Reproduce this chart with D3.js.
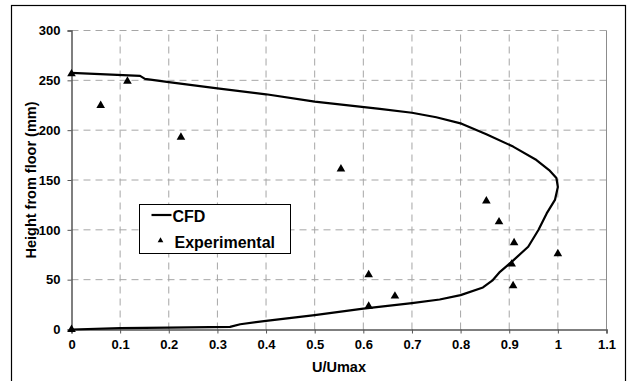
<!DOCTYPE html>
<html>
<head>
<meta charset="utf-8">
<script src="https://cdn.jsdelivr.net/npm/d3@7"></script>
<style>
  body { margin: 0; background: #fff; }
  svg { display: block; font-family: "Liberation Sans", Arial, sans-serif; font-weight: bold; }
</style>
</head>
<body>
<svg id="chart" width="633" height="381"></svg>
<script>
// CFD velocity profile
const cfdU = [0, 0.1, 0.2, 0.326, 0.347, 0.4, 0.5, 0.6, 0.7, 0.757, 0.8, 0.846, 0.865, 0.881, 0.905, 0.939, 0.96, 0.977, 0.994, 1.0, 0.997, 0.982, 0.956, 0.908, 0.853, 0.802, 0.75, 0.7, 0.634, 0.5, 0.4, 0.3, 0.2, 0.151, 0.141, 0];
const cfdH = [0, 1.3, 1.8, 2.6, 5.3, 8.7, 14.4, 21, 26.5, 30.1, 34.5, 42.2, 49, 57.9, 67.9, 83, 99.8, 116.5, 130, 143, 152, 160, 170, 183.5, 196, 206.5, 213, 217.5, 221.3, 228.7, 236, 242, 248.2, 251.5, 254.5, 257.5];

// experimental measurements
const expU = [0, 0.06, 0.115, 0.225, 0.554, 0.853, 0.879, 0.91, 1.0, 0.905, 0.908, 0.611, 0.665, 0.611, 0];
const expH = [256.5, 224.7, 249, 193, 161, 129, 108, 87, 76, 65.6, 44, 55, 33.5, 23.4, 0];

const xTicks = [0, 0.1, 0.2, 0.3, 0.4, 0.5, 0.6, 0.7, 0.8, 0.9, 1, 1.1];
const yTicks = [0, 50, 100, 150, 200, 250, 300];

const svg = d3.select('#chart');
const W = 633, H = 381;
const m = { left: 71.5, right: 26.5, top: 30.5, bottom: 51.5 };

const x = d3.scaleLinear().domain([0, 1.1]).range([m.left, W - m.right]);
const y = d3.scaleLinear().domain([0, 300]).range([H - m.bottom, m.top]);

// outer frame
svg.append('rect')
  .attr('x', 11.5).attr('y', 5.5).attr('width', 614).attr('height', 380)
  .attr('fill', 'none').attr('stroke', '#000').attr('stroke-width', 1.2);

// grid
const grid = svg.append('g').attr('stroke', '#a6a6a6').attr('stroke-width', 1).attr('stroke-dasharray', '7,5');
grid.selectAll('.gx').data(xTicks.slice(1, -1)).enter().append('line')
  .attr('x1', d => x(d)).attr('x2', d => x(d))
  .attr('y1', y(0)).attr('y2', y(300));
grid.selectAll('.gy').data(yTicks.slice(1)).enter().append('line')
  .attr('x1', x(0)).attr('x2', x(1.1))
  .attr('y1', d => y(d)).attr('y2', d => y(d));

// right edge of plot area
svg.append('line')
  .attr('x1', x(1.1)).attr('x2', x(1.1)).attr('y1', y(0)).attr('y2', y(300))
  .attr('stroke', '#8c8c8c').attr('stroke-width', 1);

// axes
const xAxis = svg.append('g')
  .attr('transform', `translate(0,${y(0)})`)
  .call(d3.axisBottom(x).tickValues(xTicks).tickSize(4).tickPadding(6).tickFormat(d3.format('')));
const yAxis = svg.append('g')
  .attr('transform', `translate(${x(0)},0)`)
  .call(d3.axisLeft(y).tickValues(yTicks).tickSize(4).tickPadding(7));

[xAxis, yAxis].forEach(a => {
  a.select('.domain').attr('stroke', '#555').attr('stroke-width', 1.5);
  a.selectAll('.tick line').attr('stroke', '#555');
  a.selectAll('.tick text').attr('fill', '#000')
    .style('font-family', '"Liberation Sans", Arial, sans-serif')
    .style('font-weight', 'bold').style('font-size', '13px');
});

// axis titles
svg.append('text')
  .attr('x', (x(0) + x(1.1)) / 2).attr('y', 371.5)
  .attr('text-anchor', 'middle').style('font-size', '14.5px')
  .text('U/Umax');
svg.append('text')
  .attr('transform', `translate(36,${(y(0) + y(300)) / 2}) rotate(-90)`)
  .attr('text-anchor', 'middle').style('font-size', '14.5px')
  .text('Height from floor (mm)');

// CFD line
const cfd = cfdU.map((u, i) => [u, cfdH[i]]);
svg.append('path')
  .datum(cfd)
  .attr('fill', 'none').attr('stroke', '#000').attr('stroke-width', 2.2)
  .attr('stroke-linejoin', 'round')
  .attr('d', d3.line().x(d => x(d[0])).y(d => y(d[1])));

// experimental points
const exp = expU.map((u, i) => [u, expH[i]]);
svg.append('g').selectAll('path')
  .data(exp).enter().append('path')
  .attr('transform', d => `translate(${x(d[0])},${y(d[1])})`)
  .attr('d', d3.symbol(d3.symbolTriangle, 32))
  .attr('fill', '#000');

// legend
const lg = svg.append('g').attr('transform', 'translate(139.5,204.5)');
lg.append('rect').attr('width', 151).attr('height', 49)
  .attr('fill', '#fff').attr('stroke', '#000').attr('stroke-width', 1);
lg.append('line').attr('x1', 12).attr('x2', 32).attr('y1', 10.5).attr('y2', 10.5)
  .attr('stroke', '#000').attr('stroke-width', 2.2);
lg.append('text').attr('x', 33).attr('y', 17).style('font-size', '16px').text('CFD');
lg.append('path').attr('transform', 'translate(21,36)')
  .attr('d', d3.symbol(d3.symbolTriangle, 14)).attr('fill', '#000');
lg.append('text').attr('x', 35).attr('y', 43).style('font-size', '16px').text('Experimental');
</script>
</body>
</html>
